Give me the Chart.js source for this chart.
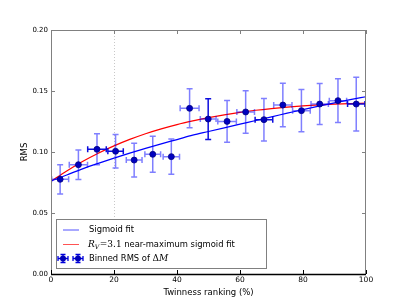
<!DOCTYPE html>
<html>
<head>
<meta charset="utf-8">
<script src="https://cdn.jsdelivr.net/npm/chart.js@4.4.1/dist/chart.umd.min.js"></script>
<style>
  html, body { margin: 0; padding: 0; background: #fff; }
</style>
</head>
<body>
<canvas id="myChart" width="407" height="305"></canvas>
<script>
// binned RMS of delta M (one point per twinness bin)
const binX      = [2.9, 8.7, 14.6, 20.5, 26.4, 32.3, 38.2, 44.0, 49.9, 55.9, 61.8, 67.6, 73.6, 79.5, 85.3, 91.1, 96.9];
const binRms    = [0.0776, 0.0896, 0.1022, 0.1006, 0.0934, 0.0981, 0.0962, 0.1358, 0.1270, 0.1251, 0.1328, 0.1265, 0.1385, 0.1339, 0.1393, 0.1421, 0.1393];
const binXErr   = [2.7, 2.9, 2.95, 2.45, 2.5, 2.5, 2.6, 3.0, 2.5, 2.95, 2.8, 2.8, 2.9, 2.8, 2.75, 2.75, 2.75];
const binRmsErr = [0.0120, 0.0121, 0.0127, 0.0138, 0.0138, 0.0148, 0.0144, 0.0160, 0.0167, 0.0172, 0.0174, 0.0174, 0.0178, 0.0173, 0.0168, 0.0179, 0.0220];

// fitted curves, every 5 %
const fitX       = [0, 5, 10, 15, 20, 25, 30, 35, 40, 45, 50, 55, 60, 65, 70, 75, 80, 85, 90, 95, 100];
const sigmoidFit = [0.0762, 0.0812, 0.0862, 0.0907, 0.0950, 0.0991, 0.1030, 0.1067, 0.1102, 0.1138, 0.1168, 0.1198, 0.1228, 0.1258, 0.1288, 0.1318, 0.1348, 0.1376, 0.1403, 0.1429, 0.1453];
const nearMaxFit = [0.0760, 0.0845, 0.0922, 0.0990, 0.1050, 0.1103, 0.1150, 0.1190, 0.1225, 0.1255, 0.1282, 0.1305, 0.1325, 0.1342, 0.1356, 0.1368, 0.1378, 0.1386, 0.1392, 0.1397, 0.1400];

const legendLabels = ['Sigmoid fit', 'near-maximum sigmoid fit', 'Binned RMS of '];

// a few bars come out darker in the original
const darkV = [8];
const darkH = [2, 3, 11, 16];

const barLight = 'rgba(0, 0, 255, 0.5)';
const barDark = 'rgba(0, 0, 220, 0.95)';

const sans = '"DejaVu Sans", sans-serif';
const serif = '"DejaVu Serif", serif';

const errorBars = {
  id: 'errorBars',
  beforeDatasetDraw(chart, args) {
    if (args.index !== 0) return;
    const ctx = chart.ctx;
    const xs = chart.scales.x, ys = chart.scales.y;
    const a = chart.chartArea;
    ctx.save();
    ctx.beginPath();
    ctx.rect(a.left, a.top, a.right - a.left, a.bottom - a.top);
    ctx.clip();
    ctx.lineWidth = 1.5;
    binX.forEach((x, i) => {
      const px = xs.getPixelForValue(x);
      const py = ys.getPixelForValue(binRms[i]);
      const x0 = xs.getPixelForValue(x - binXErr[i]);
      const x1 = xs.getPixelForValue(x + binXErr[i]);
      const y0 = ys.getPixelForValue(binRms[i] - binRmsErr[i]);
      const y1 = ys.getPixelForValue(binRms[i] + binRmsErr[i]);
      ctx.strokeStyle = darkV.includes(i) ? barDark : barLight;
      ctx.beginPath();
      ctx.moveTo(px, y0); ctx.lineTo(px, y1);
      ctx.moveTo(px - 3, y0); ctx.lineTo(px + 3, y0);
      ctx.moveTo(px - 3, y1); ctx.lineTo(px + 3, y1);
      ctx.stroke();
      ctx.strokeStyle = darkH.includes(i) ? barDark : barLight;
      ctx.beginPath();
      ctx.moveTo(x0, py); ctx.lineTo(x1, py);
      ctx.moveTo(x0, py - 3); ctx.lineTo(x0, py + 3);
      ctx.moveTo(x1, py - 3); ctx.lineTo(x1, py + 3);
      ctx.stroke();
    });
    ctx.restore();
  }
};

const frame = {
  id: 'frame',
  afterDatasetsDraw(chart) {
    const ctx = chart.ctx;
    const a = chart.chartArea;
    const xs = chart.scales.x, ys = chart.scales.y;
    ctx.save();
    ctx.lineWidth = 1;
    ctx.strokeStyle = '#808080';
    ctx.strokeRect(a.left + 0.5, a.top + 0.5, a.right - a.left - 1, a.bottom - a.top);
    // inward ticks
    ctx.beginPath();
    ys.ticks.forEach(t => {
      const y = Math.round(ys.getPixelForValue(t.value)) + 0.5;
      ctx.moveTo(a.left, y); ctx.lineTo(a.left + 4, y);
      ctx.moveTo(a.right, y); ctx.lineTo(a.right - 4, y);
    });
    xs.ticks.forEach(t => {
      const x = Math.round(xs.getPixelForValue(t.value)) + 0.5;
      ctx.moveTo(x, a.top); ctx.lineTo(x, a.top + 4);
    });
    ctx.stroke();
    ctx.strokeStyle = '#000';
    ctx.beginPath();
    xs.ticks.forEach(t => {
      const x = Math.round(xs.getPixelForValue(t.value)) + 0.5;
      ctx.moveTo(x, a.bottom); ctx.lineTo(x, a.bottom - 4);
    });
    ctx.stroke();
    ctx.lineWidth = 1.5;
    ctx.beginPath();
    ctx.moveTo(a.left, a.bottom + 0.5); ctx.lineTo(a.right, a.bottom + 0.5);
    ctx.stroke();
    ctx.restore();
  }
};

const mplLegend = {
  id: 'mplLegend',
  afterDraw(chart) {
    const ctx = chart.ctx;
    const a = chart.chartArea;
    const bx = a.left + 5, by = a.bottom - 55, bw = 210, bh = 49;
    ctx.save();
    ctx.fillStyle = '#fff';
    ctx.fillRect(bx, by, bw, bh);
    ctx.strokeStyle = '#808080';
    ctx.lineWidth = 1;
    ctx.strokeRect(bx + 0.5, by + 0.5, bw, bh);

    const r1 = by + 11, r2 = by + 25.5, r3 = by + 39.5;
    const h0 = bx + 7, h1 = bx + 23, tx = bx + 33;

    ctx.lineWidth = 0.9;
    ctx.strokeStyle = '#4040ff';
    ctx.beginPath(); ctx.moveTo(h0, r1); ctx.lineTo(h1, r1); ctx.stroke();
    ctx.strokeStyle = '#ff4040';
    ctx.beginPath(); ctx.moveTo(h0, r2); ctx.lineTo(h1, r2); ctx.stroke();

    // error-bar handle, two markers
    [h0, h1 - 1].forEach(mx => {
      ctx.strokeStyle = '#0000dd';
      ctx.lineWidth = 1.3;
      ctx.beginPath();
      ctx.moveTo(mx, r3 - 4); ctx.lineTo(mx, r3 + 4);
      ctx.moveTo(mx - 2.5, r3 - 4); ctx.lineTo(mx + 2.5, r3 - 4);
      ctx.moveTo(mx - 2.5, r3 + 4); ctx.lineTo(mx + 2.5, r3 + 4);
      ctx.moveTo(mx - 5, r3); ctx.lineTo(mx + 5, r3);
      ctx.moveTo(mx - 5, r3 - 2.5); ctx.lineTo(mx - 5, r3 + 2.5);
      ctx.moveTo(mx + 5, r3 - 2.5); ctx.lineTo(mx + 5, r3 + 2.5);
      ctx.stroke();
      ctx.fillStyle = '#0000b8';
      ctx.beginPath(); ctx.arc(mx, r3, 3, 0, Math.PI * 2); ctx.fill();
    });

    ctx.fillStyle = '#000';
    ctx.textBaseline = 'middle';
    ctx.textAlign = 'left';
    ctx.font = '8.4px ' + sans;
    ctx.fillText(legendLabels[0], tx, r1);

    let x = tx - 1;
    ctx.font = 'italic 9px ' + serif;
    ctx.fillText('R', x, r2);
    x += ctx.measureText('R').width;
    ctx.font = 'italic 6.3px ' + serif;
    ctx.fillText('V', x, r2 + 2.5);
    x += ctx.measureText('V').width + 0.5;
    ctx.font = '9px ' + serif;
    ctx.fillText('=3.1', x, r2);
    x += ctx.measureText('=3.1').width + 2.5;
    ctx.font = '8.4px ' + sans;
    ctx.fillText(legendLabels[1], x, r2);

    ctx.fillText(legendLabels[2], tx, r3);
    x = tx + ctx.measureText(legendLabels[2]).width;
    ctx.font = '9px ' + serif;
    ctx.fillText('\u0394', x, r3);
    x += ctx.measureText('\u0394').width;
    ctx.font = 'italic 9px ' + serif;
    ctx.fillText('M', x, r3);
    ctx.restore();
  }
};

const ctx = document.getElementById('myChart');

new Chart(ctx, {
  type: 'scatter',
  data: {
    datasets: [{
      label: 'Binned RMS',
      data: binX.map((x, i) => ({ x: x, y: binRms[i] })),
      pointRadius: 3,
      pointBackgroundColor: '#0000c0',
      pointBorderColor: '#000080',
      pointBorderWidth: 0.8,
      showLine: false
    }, {
      label: 'Sigmoid fit',
      data: fitX.map((x, i) => ({ x: x, y: sigmoidFit[i] })),
      showLine: true,
      borderColor: '#0000ff',
      borderWidth: 1.2,
      pointRadius: 0,
      tension: 0.4,
      cubicInterpolationMode: 'monotone'
    }, {
      label: 'Rv = 3.1 near-maximum sigmoid fit',
      data: fitX.map((x, i) => ({ x: x, y: nearMaxFit[i] })),
      showLine: true,
      borderColor: '#ff0000',
      borderWidth: 1.2,
      pointRadius: 0,
      tension: 0.4,
      cubicInterpolationMode: 'monotone'
    }]
  },
  options: {
    responsive: false,
    animation: false,
    events: [],
    layout: { padding: { top: 30, right: 41, left: 0, bottom: 0 } },
    plugins: {
      legend: { display: false },
      tooltip: { enabled: false }
    },
    scales: {
      x: {
        type: 'linear',
        min: 0,
        max: 100,
        afterFit: s => { s.height = 31; },
        afterBuildTicks: s => { s.ticks = [0, 20, 40, 60, 80, 100].map(v => ({ value: v })); },
        ticks: { color: '#000', font: { family: sans, size: 7.5 }, padding: 2, maxRotation: 0 },
        grid: {
          drawTicks: false,
          lineWidth: 1,
          color: c => (c.tick && c.tick.value === 20) ? '#c8c8c8' : 'rgba(0,0,0,0)'
        },
        border: { display: false, dash: [1, 2] },
        title: {
          display: true,
          text: 'Twinness ranking (%)',
          color: '#000',
          font: { family: sans, size: 8.5 },
          padding: { top: 0, bottom: 7 }
        }
      },
      y: {
        type: 'linear',
        min: 0,
        max: 0.2,
        afterFit: s => { s.width = 51; },
        ticks: {
          stepSize: 0.05,
          color: '#000',
          font: { family: sans, size: 7 },
          padding: 3,
          callback: v => v.toFixed(2)
        },
        grid: { display: false, drawTicks: false },
        border: { display: false },
        title: {
          display: true,
          text: 'RMS',
          color: '#000',
          font: { family: sans, size: 8.5 },
          padding: { top: 20, bottom: 0 }
        }
      }
    }
  },
  plugins: [errorBars, frame, mplLegend]
});
</script>
</body>
</html>
